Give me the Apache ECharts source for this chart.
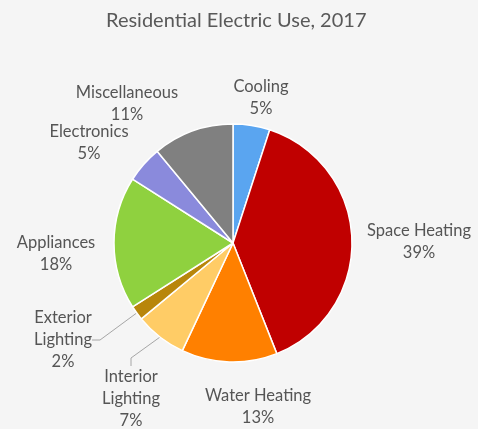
<!DOCTYPE html>
<html>
<head>
<meta charset="utf-8">
<script src="https://cdn.jsdelivr.net/npm/echarts@6/dist/echarts.min.js"></script>
<style>
  html, body { margin: 0; padding: 0; background: #f5f5f5; }
  #chart { width: 478px; height: 429px; }
</style>
</head>
<body>
<div id="chart"></div>
<script>
// data, clockwise from 12 o'clock
const categories = ['Cooling', 'Space Heating', 'Water Heating', 'Interior\nLighting', 'Exterior\nLighting', 'Appliances', 'Electronics', 'Miscellaneous'];
const shares = [5, 39, 13, 7, 2, 18, 5, 11];
const colors = ['#5aa5f0', '#c00000', '#ff8000', '#ffcc66', '#b8860b', '#8fd13f', '#8a8adc', '#808080'];

// where each label sits (label centre)
const labelPos = [
    [261, 98], [419, 242], [258, 407], [131, 399],
    [63, 340], [56, 254], [89, 143], [127, 104]
];
const withLine = [false, false, false, true, true, false, false, false];

const chart = echarts.init(document.getElementById('chart'), null, { renderer: 'canvas' });

const option = {
    backgroundColor: '#f5f5f5',
    animation: false,
    title: {
        text: 'Residential Electric Use, 2017',
        left: 101,
        top: 6,
        textStyle: { fontFamily: 'Lato', fontSize: 20, fontWeight: 'normal', color: '#595959' }
    },
    series: [{
        type: 'pie',
        center: [233, 243],
        radius: 119,
        startAngle: 90,
        clockwise: true,
        itemStyle: { borderColor: '#ffffff', borderWidth: 1.5 },
        label: {
            show: true,
            position: 'outside',
            overflow: 'none',
            formatter: p => p.name + '\n' + p.value + '%',
            fontFamily: 'Lato',
            fontSize: 16.5,
            lineHeight: 22,
            color: '#555555',
            align: 'center'
        },
        labelLine: { show: false },
        labelLayout: params => {
            const i = params.dataIndex;
            return {
                x: labelPos[i][0],
                y: labelPos[i][1],
                align: 'center',
                verticalAlign: 'middle'
            };
        },
        data: categories.map((name, i) => ({
            name: name,
            value: shares[i],
            itemStyle: { color: colors[i] },
            labelLine: {
                show: withLine[i],
                length: 8,
                length2: 8,
                lineStyle: { color: '#a6a6a6', width: 1 }
            }
        }))
    }]
};

chart.setOption(option);
</script>
</body>
</html>
